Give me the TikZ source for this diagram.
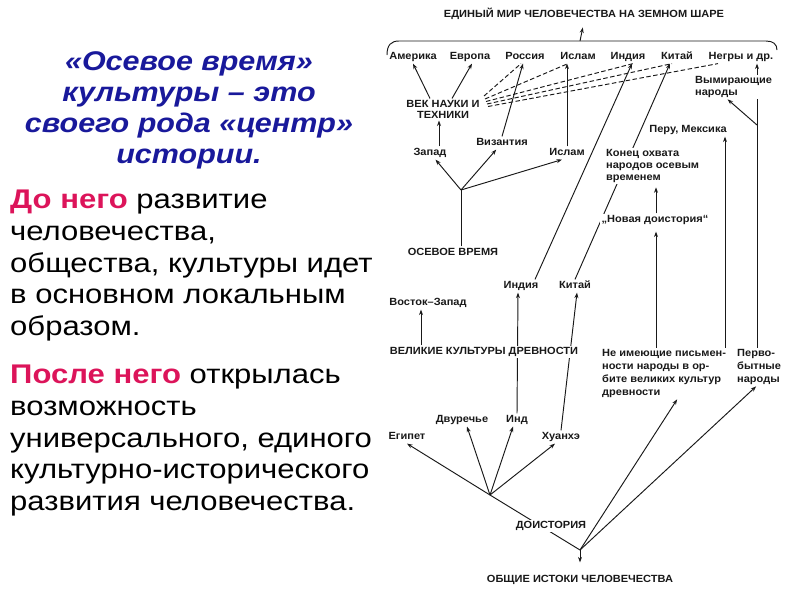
\documentclass[tikz,border=0pt]{standalone}
\usepackage{fontspec}
\setmainfont{Liberation Sans}
\newfontfamily\bodyfont[FakeStretch=1.15]{Liberation Sans}
\newfontfamily\ttlfont[FakeStretch=1.13]{Liberation Sans}
\newfontfamily\dfont[FakeStretch=1.06]{Liberation Sans}
\usetikzlibrary{arrows.meta,calc}
\pgfdeclarelayer{bg}
\pgfsetlayers{bg,main}
\definecolor{ttl}{RGB}{25,25,155}
\definecolor{hl}{RGB}{220,20,90}
\definecolor{ink}{RGB}{25,25,25}
\tikzset{
  lbl/.style={font=\dfont\bfseries\fontsize{10.4}{12}\selectfont, inner sep=1.5pt, text=ink, fill=white},
  one/.style={lbl, text height=7.6pt, text depth=2.2pt},
  conn/.style={draw=ink, line width=0.95pt, -{Stealth[length=5.5pt,width=4pt]}},
  plain/.style={draw=ink, line width=0.95pt},
  dsh/.style={draw=ink, line width=0.95pt, dash pattern=on 4.5pt off 2.5pt},
}
\begin{document}
\begin{tikzpicture}[x=1pt,y=-1pt]
\useasboundingbox (0,0) rectangle (800,600);
% left text
\node[anchor=north, align=center, inner sep=0, text=ttl,
      font=\ttlfont\bfseries\itshape\fontsize{27}{31}\selectfont] (ttlnode) at (189,51)
  {«Осевое время»\\культуры – это\\своего рода «центр»\\истории.};
\node[anchor=north west, align=left, inner sep=0, text=black,
      font=\bodyfont\fontsize{27}{31.7}\selectfont] (para1) at (10,190)
  {\textcolor{hl}{\bfseries До него} развитие\\человечества,\\общества, культуры идет\\в основном локальным\\образом.};
\node[anchor=north west, align=left, inner sep=0, text=black,
      font=\bodyfont\fontsize{27}{31.7}\selectfont] (para2) at (10,365)
  {\textcolor{hl}{\bfseries После него} открылась\\возможность\\универсального, единого\\культурно-исторического\\развития человечества.};
% diagram nodes
\node[one] (title1) at (584,15) {ЕДИНЫЙ МИР ЧЕЛОВЕЧЕСТВА НА ЗЕМНОМ ШАРЕ};
\node[one] (am) at (413,57) {Америка};
\node[one] (ev) at (470,57) {Европа};
\node[one] (ro) at (525,57) {Россия};
\node[one] (is1) at (578,57) {Ислам};
\node[one] (in1) at (628,57) {Индия};
\node[one] (ki1) at (677,57) {Китай};
\node[one] (ne) at (741,57) {Негры и др.};
\node[lbl, align=center, font=\dfont\bfseries\fontsize{10.4}{11.5}\selectfont] (vek) at (443,109.5) {ВЕК НАУКИ И\\ТЕХНИКИ};
\node[lbl, align=left, anchor=west] (vym) at (693.5,87) {Вымирающие\\народы};
\node[one] (zap) at (430,153) {Запад};
\node[one] (viz) at (502,143) {Византия};
\node[one] (is2) at (567,153) {Ислам};
\node[one] (peru) at (688,130) {Перу, Мексика};
\node[lbl, align=left, anchor=west] (kon) at (604.5,166) {Конец охвата\\народов осевым\\временем};
\node[one] (nd) at (655,220) {„Новая доистория“};
\node[one] (os) at (453,253) {ОСЕВОЕ ВРЕМЯ};
\node[one] (in2) at (521,286) {Индия};
\node[one] (ki2) at (575,286) {Китай};
\node[one] (vz) at (428,303) {Восток–Запад};
\node[one] (vk) at (484,352) {ВЕЛИКИЕ КУЛЬТУРЫ ДРЕВНОСТИ};
\node[lbl, align=left, anchor=west, font=\dfont\bfseries\fontsize{10.4}{13}\selectfont] (nim) at (600.5,373.5) {Не имеющие письмен-\\ности народы в ор-\\бите великих культур\\древности};
\node[lbl, align=left, anchor=west, font=\dfont\bfseries\fontsize{10.4}{13}\selectfont] (per) at (735.5,367) {Перво-\\бытные\\народы};
\node[one] (eg) at (407,437) {Египет};
\node[one] (dv) at (462,420) {Двуречье};
\node[one] (ind) at (517,420) {Инд};
\node[one] (hu) at (561,437) {Хуанхэ};
\node[one] (doi) at (551,526) {ДОИСТОРИЯ};
\node[one] (ob) at (580,580) {ОБЩИЕ ИСТОКИ ЧЕЛОВЕЧЕСТВА};
% junctions and columns
\coordinate (bc) at (580,41);
\coordinate (J) at (461,190);
\coordinate (P) at (490,495);
\coordinate (Q) at (580,550);
\coordinate (bP) at (757,125);
\coordinate (xZ) at (439,0);
\coordinate (xJ) at (461,0);
\coordinate (xVK) at (421,0);
\coordinate (xN) at (656,0);
\coordinate (xM) at (725,0);
\coordinate (xP) at (757,0);
\coordinate (d1) at (484,96);
\coordinate (d2) at (485,99);
\coordinate (d3) at (486,101.5);
\coordinate (d4) at (487,104);
\coordinate (d5) at (488,106.5);
\begin{pgfonlayer}{bg}
\draw[plain] (387,55) .. controls (387,45) and (391,41) .. (399,41) -- (766,41) .. controls (773,41) and (777,44) .. (777,50);
\draw[conn, shorten >=6pt] (bc) -- (title1.south);
\draw[conn] ([xshift=-13pt]vek.north) -- (am.south);
\draw[conn] ([xshift=9pt]vek.north) -- ([xshift=2pt]ev.south);
\draw[dsh] (d1) -- ([xshift=-4pt]ro.south);
\draw[dsh] (d2) -- ([xshift=-10pt]is1.south);
\draw[dsh] (d3) -- ([xshift=5pt]in1.south);
\draw[dsh] (d4) -- ([xshift=-5pt]ki1.south);
\draw[dsh] (d5) -- ([xshift=-23pt]ne.south);
\draw[conn] (zap.north -| xZ) -- (vek.south -| xZ);
\draw[plain] (os.north -| xJ) -- (J);
\draw[conn] (J) -- (zap);
\draw[conn] (J) -- (viz);
\draw[conn] (J) -- ([xshift=-5pt]is2.south);
\draw[conn] (viz.north) -- ([xshift=-2pt]ro.south);
\draw[conn] (is2.north) -- (is2.north |- is1.south);
\draw[conn] ([xshift=14pt]in2.north) -- ([xshift=4pt]in1.south);
\draw[conn] (ki2.north) -- ([xshift=-7pt]ki1.south);
\draw[conn] (vk.north -| xVK) -- (vz.south -| xVK);
\draw[conn] (ind.north) -- ([xshift=-3pt]in2.south);
\draw[conn] (hu.north) -- ([xshift=2pt]ki2.south);
\draw[conn] (P) -- (eg.south);
\draw[conn] (P) -- ([xshift=5pt]dv.south);
\draw[conn] (P) -- ([xshift=-4pt]ind.south);
\draw[conn] (P) -- ([xshift=-6pt]hu.south);
\draw[plain] (P) -- (Q);
\draw[conn, shorten >=11pt] (Q) -- (ob.north);
\draw[conn] (Q) -- ([xshift=13pt]nim.south);
\draw[conn] (Q) -- ([xshift=-3pt]per.south);
\draw[conn, shorten >=5pt] (nim.north -| xN) -- (nd.south -| xN);
\draw[conn, shorten >=3pt] (nd.north -| xN) -- (kon.south -| xN);
\draw[conn] (nim.north -| xM) -- (peru.south -| xM);
\draw[plain] (per.north -| xP) -- (vym.south -| xP);
\draw[conn] (bP) -- ([xshift=-6pt]vym.south);
\draw[conn] (vym.north -| xP) -- (ne.south -| xP);
\end{pgfonlayer}
\end{tikzpicture}
\end{document}
